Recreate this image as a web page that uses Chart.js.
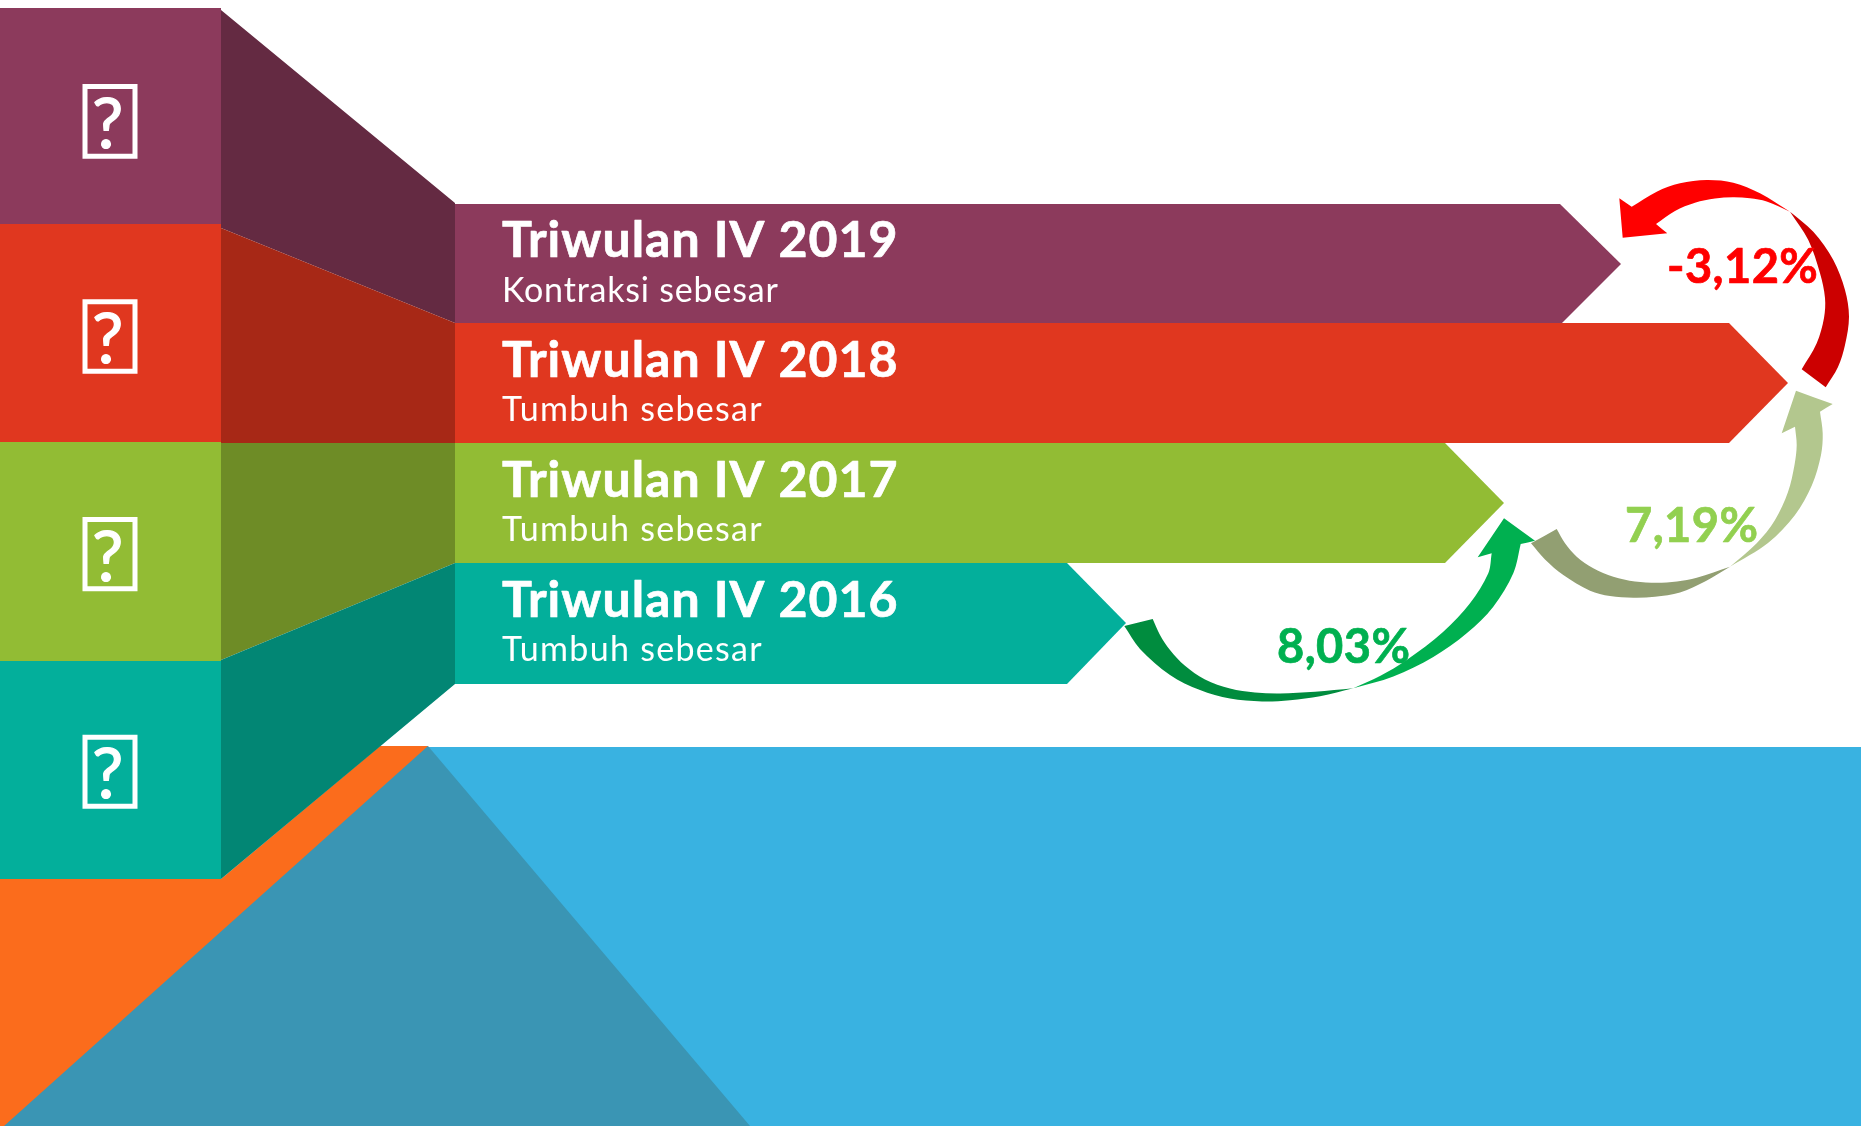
<!DOCTYPE html>
<html lang="id">
<head>
<meta charset="utf-8">
<title>Triwulan IV</title>
<style>html,body{margin:0;padding:0;background:#fff;overflow:hidden}canvas{display:block}</style>
<script src="https://cdn.jsdelivr.net/npm/chart.js@4"></script>
</head>
<body>
<canvas id="c" width="1861" height="1126"></canvas>
<script>
// Text
const periods = ["Triwulan IV 2019","Triwulan IV 2018","Triwulan IV 2017","Triwulan IV 2016"];
const captions = ["Kontraksi sebesar","Tumbuh sebesar","Tumbuh sebesar","Tumbuh sebesar"];
const growthLabels = ["-3,12%","7,19%","8,03%"];
const titleAt = [[502,257],[502,377],[502,497],[502,617]];
const captionAt = [[502,302],[502,421],[502,541],[502,661]];
const captionSpacing = [0.8,1.3,1.3,1.3];
const growthAt = [[1667,283],[1625,542],[1277,663]];
const iconMarkAt = [[92,147.7],[92,363],[92,581],[92,798]];

// Backdrop
const orangeBand = [[0,879],[221,879],[380,746],[428,746],[428,1126],[0,1126]];
const skyPanel = [[428,747],[1861,747],[1861,1126],[740,1126]];
const shadowPeak = [[428,746],[750,1126],[4,1126]];

// Left blocks
const plumBlock = [[0,8],[221,8],[221,224],[0,224]];
const redBlock = [[0,224],[221,224],[221,442],[0,442]];
const limeBlock = [[0,442],[221,442],[221,661],[0,661]];
const tealBlock = [[0,661],[221,661],[221,879],[0,879]];

// Perspective sides
const plumSide = [[221,10],[455,203],[455,323],[221,228]];
const redSide = [[221,228],[455,323],[455,443],[221,443]];
const limeSide = [[221,443],[455,443],[455,563],[221,660]];
const tealSide = [[221,660],[455,563],[455,684],[221,879]];

// Ribbons
const plumRibbon = [[455,204],[1560,204],[1621,264],[1562,323],[455,323]];
const redRibbon = [[455,323],[1729,323],[1788,383],[1729,443],[455,443]];
const limeRibbon = [[455,443],[1445,443],[1504,503],[1445,563],[455,563]];
const tealRibbon = [[455,563],[1067,563],[1126,623],[1067,684],[455,684]];

// Curved arrows (a doubled point is a sharp corner)
const redHead = [[1619.3,198.3],[1619.3,198.3],[1631.7,206.7],[1631.7,206.7],[1656.7,191.7],[1680,183.3],[1706.7,180],[1733.3,182.7],[1760,193.3],[1790,211.7],[1790,211.7],[1766.7,201.5],[1750,198.3],[1733,197.3],[1715,198.6],[1695,202.8],[1675,211],[1656,224],[1656,224],[1667.3,233.3],[1667.3,233.3],[1622.7,237.7],[1622.7,237.7]];
const redTail = [[1790,211.7],[1790,211.7],[1813.3,231.7],[1833.3,260],[1845,290],[1849,316.7],[1845,345],[1838,367],[1825.7,387.3],[1825.7,387.3],[1801.7,369.3],[1801.7,369.3],[1816.7,343.3],[1824,318],[1825,298],[1820,273.3],[1808.3,240],[1790,211.7],[1790,211.7]];
const oliveHead = [[1796,390.7],[1796,390.7],[1832.7,404],[1832.7,404],[1820,411.7],[1820,411.7],[1822.7,433.3],[1821,455],[1812,485],[1795,515],[1768,543],[1730,566.7],[1730,566.7],[1756.7,543.3],[1775,520],[1788,492],[1794.5,465],[1796.7,445],[1795,426.7],[1795,426.7],[1781.7,433.3],[1781.7,433.3]];
const oliveTail = [[1730,566.7],[1730,566.7],[1705,581.5],[1680,592.5],[1655,596.8],[1633.3,597.7],[1610,596],[1590,590.7],[1563.3,575],[1545,559.5],[1531,543.3],[1531,543.3],[1556.7,529],[1556.7,529],[1565,543.3],[1576.7,556.7],[1593.3,568.3],[1613.3,576.7],[1635,581.5],[1656.7,582.7],[1677,581.5],[1696.7,577.7],[1730,566.7],[1730,566.7]];
const greenHead = [[1504,518.3],[1504,518.3],[1535,540.7],[1535,540.7],[1520.7,544],[1520.7,544],[1513.3,573.3],[1493.3,606.7],[1466.7,633.3],[1433.3,657],[1393.3,676.5],[1353.3,688.3],[1353.3,688.3],[1380,676],[1406.7,660],[1443.3,631.7],[1470,603.3],[1488.3,573.3],[1491.7,553.3],[1491.7,553.3],[1477.7,557.3],[1477.7,557.3]];
const greenTail = [[1353.3,688.3],[1353.3,688.3],[1320,696.3],[1290,700.3],[1262,701.5],[1230,698.6],[1200,690.1],[1170,674.9],[1140,648.9],[1124.3,626],[1124.3,626],[1152.7,619],[1152.7,619],[1160,635],[1170,650],[1185,665.8],[1205,679.4],[1230,688.4],[1255,692.4],[1280,693.4],[1315,691.7],[1353.3,688.3],[1353.3,688.3]];

// Icon frames
const iconFrames = [
  [[85,86.5],[135,86.5],[135,156.2],[85,156.2],[85,86.5]],
  [[85,301.8],[135,301.8],[135,371.2],[85,371.2],[85,301.8]],
  [[85,519.5],[135,519.5],[135,588.8],[85,588.8],[85,519.5]],
  [[85,737.2],[135,737.2],[135,806.2],[85,806.2],[85,737.2]]
];

const xy = pts => pts.map(p => ({x:p[0], y:p[1]}));
const shape = (pts, color, tension) => ({data:xy(pts), backgroundColor:color, borderColor:color, borderWidth:0, fill:'shape', tension:tension||0, pointRadius:0, showLine:true});
const frame = pts => ({data:xy(pts), borderColor:'#ffffff', borderWidth:5, fill:false, tension:0, pointRadius:0, showLine:true, borderCapStyle:'square'});

const layers = [
  shape(orangeBand,'#FB6C1C'), shape(skyPanel,'#39B2E1'), shape(shadowPeak,'#3A95B4'),
  shape(plumBlock,'#8C3A5C'), shape(redBlock,'#E0371F'), shape(limeBlock,'#92BC34'), shape(tealBlock,'#03AF9B'),
  shape(plumSide,'#642A42'), shape(redSide,'#A72816'), shape(limeSide,'#6E8C26'), shape(tealSide,'#028674'),
  shape(plumRibbon,'#8C3A5C'), shape(redRibbon,'#E0371F'), shape(limeRibbon,'#92BC34'), shape(tealRibbon,'#03AF9B'),
  shape(greenTail,'#008C3E',0.33), shape(greenHead,'#00B050',0.33),
  shape(oliveTail,'#929F72',0.33), shape(oliveHead,'#B3C78E',0.33),
  shape(redTail,'#CC0000',0.33), shape(redHead,'#FF0000',0.33),
  ...iconFrames.map(frame)
];
layers.forEach((d,i) => { d.order = layers.length - i; });

const textPlugin = {
  id:'texts',
  afterDatasetsDraw(chart){
    const {ctx, scales:{x,y}} = chart;
    const put = (str, at, font, color, spacing, weight) => {
      ctx.font = font; ctx.fillStyle = color; ctx.strokeStyle = color; ctx.lineJoin = 'round';
      ctx.textAlign = 'left'; ctx.textBaseline = 'alphabetic'; ctx.letterSpacing = spacing + 'px';
      const px = x.getPixelForValue(at[0]), py = y.getPixelForValue(at[1]);
      ctx.fillText(str, px, py);
      if (weight) { ctx.lineWidth = weight; ctx.strokeText(str, px, py); }
    };
    ctx.save();
    periods.forEach((t,i) => put(t, titleAt[i], 'bold 50px Lato', '#ffffff', 1, 0.7));
    captions.forEach((t,i) => put(t, captionAt[i], '34px Lato', '#ffffff', captionSpacing[i], 0));
    const colors = ['#FF0000','#92D050','#00B050'];
    growthLabels.forEach((t,i) => put(t, growthAt[i], 'bold 47px Lato', colors[i], 0.4, 0.7));
    iconMarkAt.forEach(at => put('?', at, '70px Lato', '#ffffff', 0, 1.2));
    ctx.restore();
  }
};

new Chart(document.getElementById('c'), {
  type:'scatter',
  data:{datasets:layers},
  options:{
    responsive:false, animation:false, devicePixelRatio:1,
    layout:{padding:0},
    clip:false,
    plugins:{legend:{display:false}, tooltip:{enabled:false}, title:{display:false}},
    scales:{
      x:{type:'linear', min:0, max:1861, display:false},
      y:{type:'linear', min:0, max:1126, reverse:true, display:false}
    }
  },
  plugins:[textPlugin]
});
</script>
</body>
</html>
